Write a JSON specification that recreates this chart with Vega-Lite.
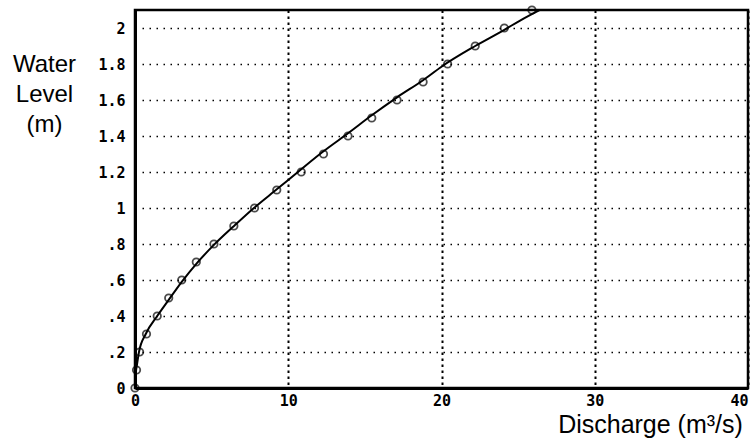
{
  "$schema": "https://vega.github.io/schema/vega-lite/v6.json",
  "width": 613,
  "height": 378,
  "autosize": {"type": "none"},
  "padding": {"left": 135, "top": 10, "right": 8, "bottom": 54},
  "background": "white",
  "config": {
    "view": {"stroke": "black", "strokeWidth": 2.5},
    "axis": {
      "domainColor": "black",
      "domainWidth": 3,
      "ticks": false,
      "labelFont": "DejaVu Sans Mono",
      "labelFontWeight": "bold",
      "labelFontSize": 15,
      "labelColor": "black",
      "labelOverlap": false,
      "gridColor": "black",
      "gridOpacity": 1,
      "titleFont": "Liberation Sans",
      "titleFontWeight": "normal",
      "titleColor": "black"
    }
  },
  "datasets": {
    "obs": [
      {"q": 0, "h": 0},
      {"q": 0.1, "h": 0.1},
      {"q": 0.3, "h": 0.2},
      {"q": 0.75, "h": 0.3},
      {"q": 1.45, "h": 0.4},
      {"q": 2.2, "h": 0.5},
      {"q": 3.05, "h": 0.6},
      {"q": 4.0, "h": 0.7},
      {"q": 5.15, "h": 0.8},
      {"q": 6.45, "h": 0.9},
      {"q": 7.8, "h": 1.0},
      {"q": 9.25, "h": 1.1},
      {"q": 10.85, "h": 1.2},
      {"q": 12.3, "h": 1.3},
      {"q": 13.9, "h": 1.4},
      {"q": 15.45, "h": 1.5},
      {"q": 17.1, "h": 1.6},
      {"q": 18.8, "h": 1.7},
      {"q": 20.4, "h": 1.8},
      {"q": 22.2, "h": 1.9},
      {"q": 24.1, "h": 2.0},
      {"q": 25.9, "h": 2.1}
    ],
    "fit": [
      {"q": 0, "h": 0},
      {"q": 0.05, "h": 0.08},
      {"q": 0.13, "h": 0.13},
      {"q": 0.26, "h": 0.2},
      {"q": 0.7, "h": 0.3},
      {"q": 1.45, "h": 0.4},
      {"q": 2.2, "h": 0.49},
      {"q": 3.05, "h": 0.59},
      {"q": 4.0, "h": 0.69},
      {"q": 5.15, "h": 0.795},
      {"q": 6.46, "h": 0.9},
      {"q": 7.76, "h": 1.0},
      {"q": 9.27, "h": 1.105},
      {"q": 10.77, "h": 1.21},
      {"q": 12.3, "h": 1.315},
      {"q": 13.9, "h": 1.415},
      {"q": 15.45, "h": 1.515},
      {"q": 17.1, "h": 1.615},
      {"q": 18.8, "h": 1.71},
      {"q": 20.0, "h": 1.785},
      {"q": 22.2, "h": 1.9},
      {"q": 24.1, "h": 1.99},
      {"q": 25.1, "h": 2.04},
      {"q": 26.75, "h": 2.115}
    ]
  },
  "layer": [
    {
      "data": {"name": "fit"},
      "mark": {"type": "line", "color": "black", "strokeWidth": 2, "interpolate": "monotone", "clip": true},
      "encoding": {
        "x": {
          "field": "q", "type": "quantitative",
          "scale": {"domain": [0, 40], "nice": false, "zero": false},
          "axis": {
            "values": [0, 10, 20, 30, 40],
            "tickCount": 10,
            "grid": true,
            "gridDash": [2.5, 3.5],
            "gridWidth": 2,
            "labelPadding": 5,
            "labelFlush": false,
            "labelOverlap": false,
            "labelAlign": {"condition": {"test": "datum.value == 40", "value": "right"}, "value": "center"},
            "labelDx": {"condition": {"test": "datum.value == 40", "value": 7}, "value": 0},
            "title": "Discharge (m³/s)",
            "titleFontSize": 25,
            "titleAnchor": "start",
            "titleAlign": "center",
            "titleX": 515,
            "titleY": 44,
            "titleBaseline": "alphabetic"
          }
        },
        "y": {
          "field": "h", "type": "quantitative",
          "scale": {"domain": [0, 2.1], "nice": false, "zero": false},
          "axis": {
            "values": [0, 0.2, 0.4, 0.6, 0.8, 1, 1.2, 1.4, 1.6, 1.8, 2],
            "tickCount": 20,
            "labelExpr": "datum.value > 0 && datum.value < 1 ? slice(format(datum.value, '.1~f'), 1) : format(datum.value, '.1~f')",
            "grid": true,
            "gridDash": [1.5, 5.5],
            "gridWidth": 1.5,
            "labelPadding": 10,
            "labelFlush": false,
            "labelOverlap": false,
            "title": ["Water", "Level", "(m)"],
            "titleAngle": 0,
            "titleFontSize": 24,
            "titleLineHeight": 30,
            "titleAlign": "center",
            "titleBaseline": "alphabetic",
            "titleX": -91,
            "titleY": 61
          }
        }
      }
    },
    {
      "data": {"name": "obs"},
      "mark": {"type": "point", "shape": "circle", "filled": false, "color": "black", "strokeWidth": 1.8, "size": 55, "clip": false},
      "encoding": {
        "x": {"field": "q", "type": "quantitative"},
        "y": {"field": "h", "type": "quantitative"}
      }
    }
  ]
}
